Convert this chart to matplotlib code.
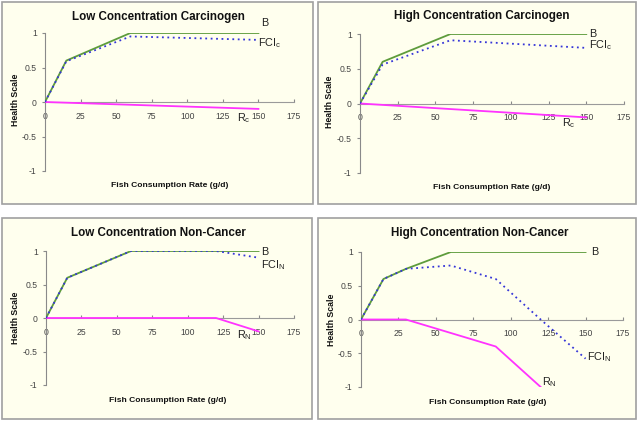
import matplotlib.pyplot as plt
from matplotlib.patches import Rectangle

plt.rcParams['font.family'] = ['Liberation Sans', 'DejaVu Sans']
plt.rcParams['mathtext.default'] = 'regular'

# data for each panel: x points and values
titles = ['Low Concentration Carcinogen', 'High Concentration Carcinogen',
          'Low Concentration Non-Cancer', 'High Concentration Non-Cancer']

b_x = [[0, 15, 60, 150], [0, 15, 60, 150], [0, 15, 60, 150], [0, 15, 30, 60, 150]]
b_y = [[0, 0.6, 1, 1], [0, 0.6, 1, 1], [0, 0.6, 1, 1], [0, 0.6, 0.75, 1, 1]]

fci_x = [[0, 15, 60, 150], [0, 15, 60, 150], [0, 15, 60, 120, 150],
         [0, 15, 30, 60, 90, 120, 150]]
fci_y = [[0, 0.59, 0.95, 0.9], [0, 0.56, 0.91, 0.8], [0, 0.6, 1, 1, 0.9],
         [0, 0.6, 0.75, 0.8, 0.6, 0, -0.58]]

r_x = [[0, 15, 60, 150], [0, 15, 60, 150], [0, 120, 150], [0, 30, 90, 120]]
r_y = [[0, -0.01, -0.04, -0.1], [0, -0.02, -0.08, -0.2], [0, 0, -0.2],
       [0, 0, -0.4, -1]]

sub = ['c', 'c', 'N', 'N']
x_ticks = [0, 25, 50, 75, 100, 125, 150, 175]
y_ticks = [-1, -0.5, 0, 0.5, 1]
y_tick_labels = ['-1', '-0.5', '0', '0.5', '1']

# label positions (data coords) for B, FCI, R
b_pos = [(152, 1.14), (152, 1.0), (152, 0.99), (154, 1.0)]
fci_pos = [(150, 0.85), (152, 0.84), (152, 0.79), (151, -0.56)]
r_pos = [(135, -0.24), (134, -0.28), (135, -0.25), (121, -0.93)]

W, H = 640, 421
fig = plt.figure(figsize=(6.4, 4.21), dpi=100)

# panel boxes in pixels: x0, y0(top), x1, y1(bottom)
panels = [(2, 2, 313, 204), (318, 2, 636, 204), (2, 218, 312, 419), (318, 218, 636, 419)]
# axes boxes in pixels: left, top, right, bottom
axes_px = [(45, 33, 294, 171), (360, 34, 624, 173), (46, 251, 294, 385), (361, 252, 623, 387)]
title_px = [(158, 17), (482, 16), (158, 233), (480, 233)]
xlabel_px = [(170, 186), (492, 188), (168, 401), (488, 403)]
ylabel_px = [(15, 100), (330, 102), (15, 318), (332, 320)]

for i in range(4):
    px0, py0, px1, py1 = panels[i]
    fig.patches.append(Rectangle((px0 / W, 1 - py1 / H), (px1 - px0) / W, (py1 - py0) / H,
                                 transform=fig.transFigure, facecolor='#ffffee',
                                 edgecolor='#a0a0a0', linewidth=1.2, zorder=-10))
    l, t, r, b = axes_px[i]
    ax = fig.add_axes([l / W, 1 - b / H, (r - l) / W, (b - t) / H])
    ax.set_zorder(5)
    ax.patch.set_alpha(0)
    ax.plot(b_x[i], b_y[i], color='#5e9c3c', lw=1.3, zorder=3)
    ax.plot(fci_x[i], fci_y[i], color='#3535d8', lw=1.3, ls=(0, (1, 2)), zorder=4)
    ax.plot(r_x[i], r_y[i], color='#ff33ff', lw=1.3, zorder=3)

    ax.set_xlim(0, 175)
    ax.set_ylim(-1, 1)
    ax.spines['top'].set_visible(False)
    ax.spines['right'].set_visible(False)
    ax.spines['bottom'].set_position(('data', 0))
    ax.spines['bottom'].set_color('#9a9a9a')
    ax.spines['left'].set_color('#8a8a8a')
    ax.set_xticks(x_ticks)
    ax.set_xticklabels([str(v) for v in x_ticks])
    ax.set_yticks(y_ticks)
    ax.set_yticklabels(y_tick_labels)
    ax.tick_params(axis='both', labelsize=6.2, labelcolor='#444444', color='#8a8a8a',
                   width=0.8)
    ax.tick_params(axis='x', direction='in', length=2.5, pad=7)
    ax.tick_params(axis='y', direction='out', length=2.5, pad=3.5)

    ax.text(*b_pos[i], 'B', fontsize=7.8, va='center', ha='left', color='#222222')
    ax.text(*fci_pos[i], 'FCI$_{' + sub[i] + '}$', fontsize=7.8, va='center', ha='left',
            color='#222222')
    ax.text(*r_pos[i], 'R$_{' + sub[i] + '}$', fontsize=7.8, va='center', ha='left',
            color='#222222')

    tx, ty = title_px[i]
    fig.text(tx / W, 1 - ty / H, titles[i], fontsize=8.4, fontweight='bold',
             ha='center', va='center', color='#111111')
    xx, xy = xlabel_px[i]
    fig.text(xx / W, 1 - xy / H, 'Fish Consumption Rate (g/d)', fontsize=6.1,
             fontweight='bold', ha='center', va='center', color='#111111')
    yx, yy = ylabel_px[i]
    fig.text(yx / W, 1 - yy / H, 'Health Scale', fontsize=6.3, fontweight='bold',
             rotation=90, ha='center', va='center', color='#111111')

fig.savefig('out.png', dpi=100, facecolor='white')
